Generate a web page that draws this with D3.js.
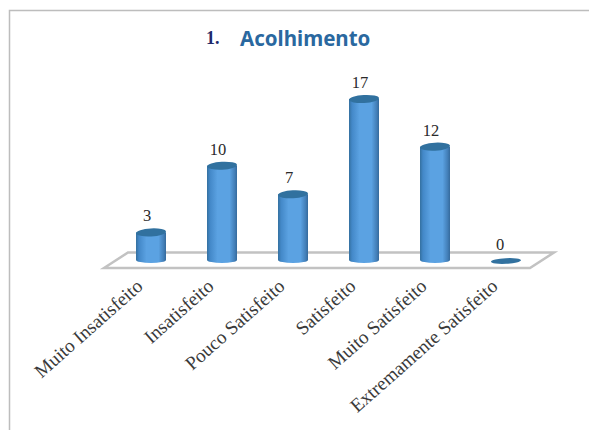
<!DOCTYPE html>
<html>
<head>
<meta charset="utf-8">
<script src="https://cdn.jsdelivr.net/npm/d3@7"></script>
<style>
html,body{margin:0;padding:0;background:#fff;}
svg{display:block;}
</style>
</head>
<body>
<div id="chart"></div>
<script>
const categories = ["Muito Insatisfeito","Insatisfeito","Pouco Satisfeito","Satisfeito","Muito Satisfeito","Extremamente Satisfeito"];
const counts = [3,10,7,17,12,0];
const titleNumber = "1.";
const titleText = "Acolhimento";

const W = 589, H = 430;
const svg = d3.select("#chart").append("svg").attr("width",W).attr("height",H);

// Frame: only the top and left edges fall inside the view
svg.append("path").attr("d",`M9.5,${H}V10.5H${W}`).attr("fill","none").attr("stroke","#bdbdbd").attr("stroke-width",1.5);

// Horizontal cylinder shading
const defs = svg.append("defs");
const grad = defs.append("linearGradient").attr("id","cyl").attr("x1",0).attr("x2",1).attr("y1",0).attr("y2",0);
[[0,"#34709f"],[0.1,"#4388c8"],[0.35,"#5ba2e2"],[0.75,"#5ba2e2"],[0.92,"#437fb8"],[1,"#356a9c"]]
  .forEach(([o,c])=>grad.append("stop").attr("offset",o).attr("stop-color",c));

const x = d3.scalePoint().domain(categories).range([151,506]);
const y = d3.scaleLinear().domain([0,17]).range([261,99]);
const rx = 15, ry = 4;

// Floor plane in oblique projection
const floor = [[104,268],[128,252.5],[554,252.5],[530,268]];
svg.append("polygon").attr("points",floor.join(" "))
  .attr("fill","#fff").attr("stroke","#c2c2c2").attr("stroke-width",2.5).attr("stroke-linejoin","miter");

const bars = svg.append("g").selectAll("g").data(categories.map((c,i)=>({c,v:counts[i]}))).join("g");

// Cylinder body with the rounded foot
bars.filter(d=>d.v>0).append("path")
  .attr("d",d=>{
    const cx=x(d.c), top=y(d.v), base=y(0)-1;
    return `M${cx-rx},${top}V${base}A${rx},${ry-1} 0 0 0 ${cx+rx},${base}V${top}Z`;
  })
  .attr("fill","url(#cyl)");

// Cylinder cap
bars.append("ellipse")
  .attr("cx",d=>x(d.c)).attr("cy",d=>y(d.v))
  .attr("rx",rx).attr("ry",d=>d.v>0?ry:2.8)
  .attr("fill","#31719f")
  .attr("transform",d=>`rotate(-3 ${x(d.c)} ${y(d.v)})`);

// Value labels
bars.append("text")
  .attr("x",d=>x(d.c)-4 + (d.v===0?-2:0))
  .attr("y",d=>y(d.v)-11)
  .attr("text-anchor","middle")
  .attr("font-family","'Liberation Serif',serif").attr("font-size",16.5)
  .attr("fill","#2a2a2a")
  .text(d=>d.v);

// Slanted category labels
svg.append("g").selectAll("text").data(categories).join("text")
  .attr("transform",d=>`translate(${x(d)-7},${288}) rotate(-41.5)`)
  .attr("text-anchor","end")
  .attr("font-family","'Liberation Serif',serif").attr("font-size",19.2)
  .attr("fill","#3a3a3a")
  .text(d=>d);

// Title
svg.append("text").attr("x",206).attr("y",43.5)
  .attr("font-family","'Liberation Serif',serif").attr("font-weight","bold").attr("font-size",18)
  .attr("fill","#1f2a6b").text(titleNumber);
svg.append("text").attr("x",240).attr("y",46)
  .attr("font-family","'Noto Sans',sans-serif").attr("font-weight","bold").attr("font-size",20.5)
  .attr("fill","#2a689f").text(titleText);
</script>
</body>
</html>
